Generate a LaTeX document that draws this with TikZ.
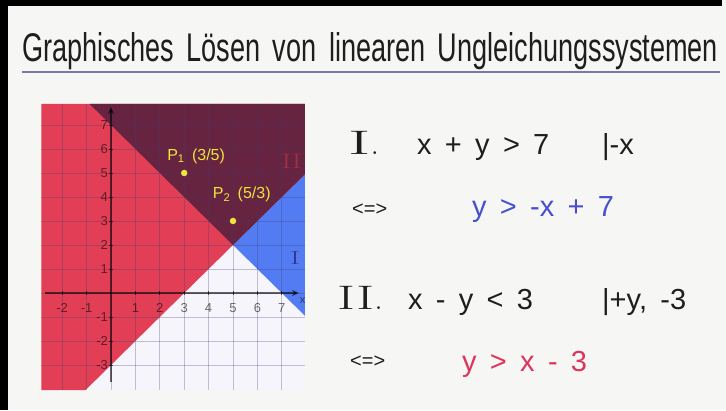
\documentclass[tikz,border=0pt]{standalone}
\usepackage{fontspec}
\usepackage{graphicx}
\newfontfamily\handfont[WordSpace=1.65]{Liberation Sans}
\usetikzlibrary{arrows.meta}

\definecolor{paper}{RGB}{246,247,244}
\definecolor{boardwhite}{RGB}{245,245,251}
\definecolor{boardred}{RGB}{226,62,86}
\definecolor{boardmaroon}{RGB}{102,36,64}
\definecolor{boardblue}{RGB}{84,124,242}
\definecolor{gridline}{RGB}{60,60,120}
\definecolor{ptyellow}{RGB}{238,228,60}
\definecolor{inkblue}{RGB}{70,80,205}
\definecolor{inkred}{RGB}{222,52,92}
\definecolor{ink}{RGB}{30,30,30}
\definecolor{ruleblue}{RGB}{120,120,175}

\begin{document}
\begin{tikzpicture}[x=1pt, y=1pt,
  eq/.style={font=\handfont\fontsize{29}{34}\selectfont, text=ink, anchor=base west, inner sep=0pt},
  equiv/.style={font=\handfont\fontsize{20}{24}\selectfont, text=ink, anchor=west, inner sep=0pt},
  roman/.style={font=\rmfamily\fontsize{34}{38}\selectfont, text=ink, anchor=base west, inner sep=0pt},
  ticklbl/.style={font=\handfont\fontsize{13}{15}\selectfont, text=black, text opacity=0.55, inner sep=0pt},
  ptdot/.style={circle, fill=ptyellow, inner sep=0pt, minimum size=6.5pt},
  plabel/.style={font=\handfont\fontsize{16}{19}\selectfont, text=ptyellow, anchor=west, inner sep=0pt},
  gridln/.style={draw=gridline, opacity=0.3, line width=0.8pt},
  axisln/.style={draw=black, opacity=0.6, line width=1.1pt}
]
\useasboundingbox (0,0) rectangle (726,410);
\fill[paper] (0,0) rectangle (726,410);
\fill[black] (0,0) rectangle (8,410);
\fill[black] (0,404) rectangle (722,410);

%--- Title ---
\draw[ruleblue, line width=1.2pt] (22,338) -- (720,338);
\node[anchor=base west, inner sep=0pt, text=ink] (title) at (22,348)
  {\resizebox{696pt}{29pt}{\handfont Graphisches Lösen von linearen Ungleichungssystemen}};

%--- Board ---
\begin{scope}[shift={(111,117)}, x=24.4pt, y=24pt]
\fill[boardwhite] (-2.85,-4.05) rectangle (7.95,7.88);
\fill[boardred] (-2.85,-4.05) -- (-1.05,-4.05) -- (7.95,4.95) -- (7.95,7.88) -- (-2.85,7.88) -- cycle;
\fill[boardblue] (5,2) -- (7.95,4.95) -- (7.95,-0.95) -- cycle;
\fill[boardmaroon] (-0.88,7.88) -- (5,2) -- (7.95,4.95) -- (7.95,7.88) -- cycle;
\foreach \x in {-2,...,7}
  \draw[gridln] (\x,-4.05) -- (\x,7.88);
\foreach \y in {-3,...,7}
  \draw[gridln] (-2.85,\y) -- (7.95,\y);
% axes
\draw[axisln, -{Stealth[length=7pt,width=6pt]}] (-2.7,0) -- (7.7,0);
\draw[axisln, -{Stealth[length=7pt,width=6pt]}] (0,-3.7) -- (0,7.75);
\node[ticklbl, font=\handfont\fontsize{11}{13}\selectfont] (xlbl) at (7.85,-0.3) {x};
\foreach \x in {-2,-1,1,2,3,4,5,6,7} {
  \draw[axisln, line width=0.9pt] (\x,-0.1) -- (\x,0.1);
  \node[ticklbl] (xt\x) at (\x,-0.62) {\x};
}
\foreach \y in {-3,-2,-1,1,2,3,4,5,6,7} {
  \draw[axisln, line width=0.9pt] (-0.1,\y) -- (0.1,\y);
  \node[ticklbl, anchor=east] (yt\y) at (-0.12,\y) {\y};
}
% points
\node[ptdot] (p1) at (3,5) {};
\node[ptdot] (p2) at (5,3) {};
\node[plabel] (p1lbl) at (2.3,5.7) {P\textsubscript{1} (3/5)};
\node[plabel] (p2lbl) at (4.17,4.1) {P\textsubscript{2} (5/3)};
% region marks
\node[font=\rmfamily\fontsize{21}{23}\selectfont, text=boardred!45!boardmaroon, inner sep=0pt] (markII) at (7.4,5.5) {\scalebox{1.4}[1]{II}};
\node[font=\rmfamily\fontsize{19}{21}\selectfont, text=inkblue!70!black, inner sep=0pt] (markI) at (7.55,1.45) {\scalebox{1.6}[1]{I}};
\end{scope}

%--- Inequality I ---
\node[roman] (numI) at (348,255) {\scalebox{2}[1]{I}.};
\node[eq] (eqI) at (417,255) {x + y > 7};
\node[eq] (opI) at (602,255) {|-x};
\node[equiv] (eqvI) at (352,200) {<=>};
\node[eq, text=inkblue] (solI) at (472,193) {y > -x + 7};

%--- Inequality II ---
\node[roman] (numII) at (337,100) {\scalebox{1.6}[1]{II}.};
\node[eq] (eqII) at (408,100) {x - y < 3};
\node[eq] (opII) at (602,100) {|+y, -3};
\node[equiv] (eqvII) at (350,48) {<=>};
\node[eq, text=inkred] (solII) at (462,38) {y > x - 3};
\end{tikzpicture}
\end{document}
